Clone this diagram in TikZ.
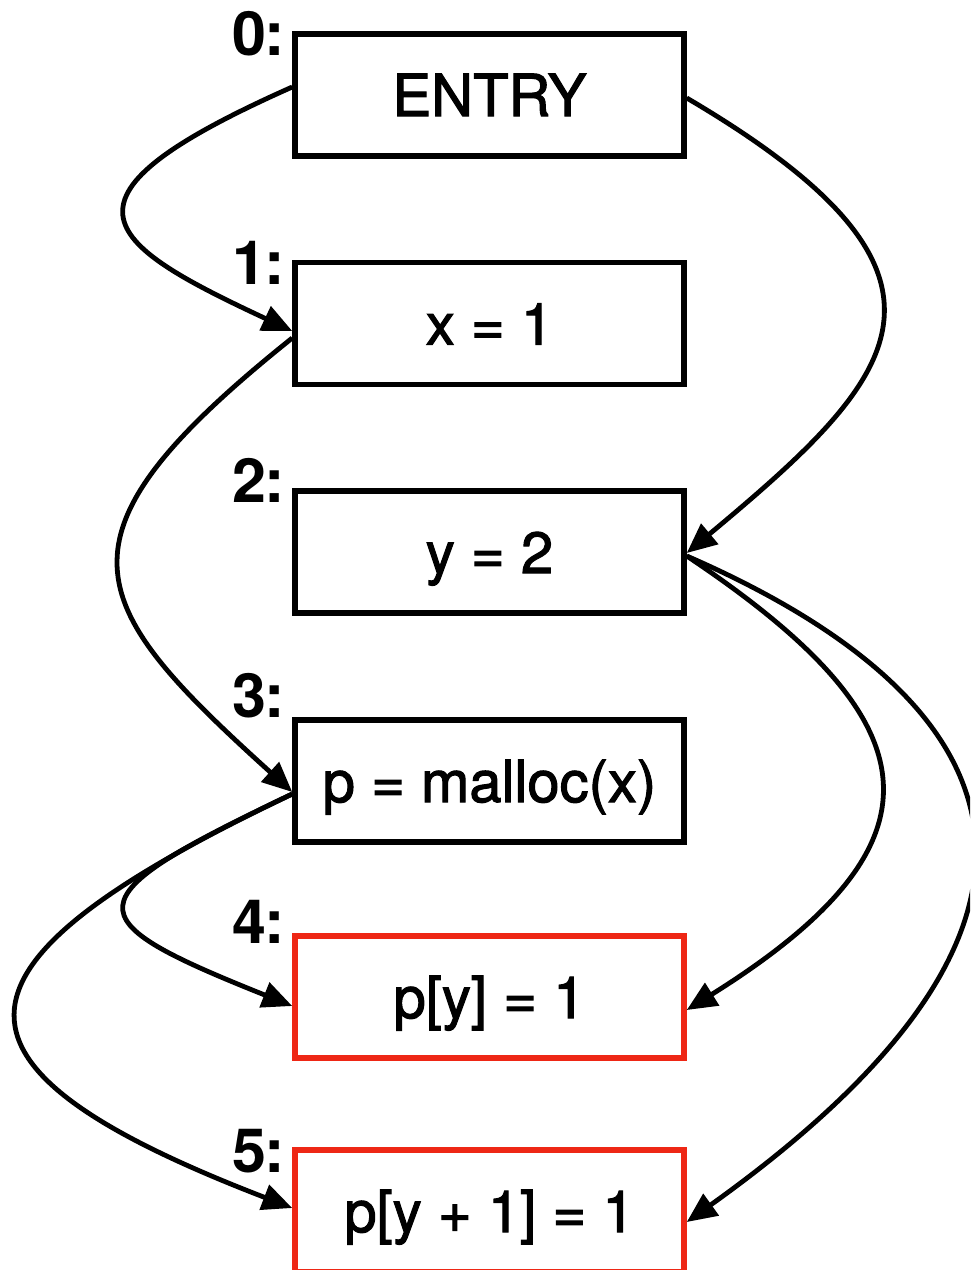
\documentclass[tikz,border=0pt]{standalone}
\usepackage{fontspec}
\setmainfont{TeX Gyre Heros}
\font\boxfnt="[texgyreheros-regular.otf]:embolden=1.8" at 58pt
\usetikzlibrary{arrows.meta}
\definecolor{boxred}{RGB}{238,39,21}
\begin{document}
\begin{tikzpicture}[x=1pt,y=-1pt,
  blk/.style={draw, line width=5.5pt, minimum width=389pt, minimum height=122pt,
    inner sep=0pt, text height=42pt, text depth=0pt,
    font=\boxfnt},
  redblk/.style={blk, draw=boxred},
  lbl/.style={anchor=base east, inner sep=0pt, font=\fontsize{61}{64}\selectfont\bfseries},
  edge/.style={line width=4.8pt, -{Triangle[length=30pt,width=26pt]}}]
\useasboundingbox (0,0) rectangle (970,1270);
\clip (0,0) rectangle (970,1270);
\node[blk] (b0) at (489.5,95) {ENTRY};
\node[blk] (b1) at (489.5,323.5) {x = 1};
\node[blk] (b2) at (489.5,552) {y = 2};
\node[blk] (b3) at (489.5,781) {p = malloc(x)};
\node[redblk] (b4) at (489.5,997) {p[y] = 1};
\node[redblk] (b5) at (489.5,1211) {p[y + 1] = 1};
\node[lbl] (l0) at (285,55) {0\kern-2pt:};
\node[lbl] (l1) at (285,284) {1\kern-2pt:};
\node[lbl] (l2) at (285,502) {2\kern-2pt:};
\node[lbl] (l3) at (285,717) {3\kern-2pt:};
\node[lbl] (l4) at (285,943) {4\kern-2pt:};
\node[lbl] (l5) at (285,1172) {5\kern-2pt:};
\draw[edge] ([yshift=8pt]b0.west) .. controls +(-250,111) and +(-193,-90) .. ([yshift=-7.5pt]b1.west);
\draw[edge] ([yshift=-3pt]b0.east) .. controls +(306,180) and +(211,-176) .. ([yshift=-1pt]b2.east);
\draw[edge] ([yshift=-14.5pt]b1.west) .. controls +(-250,200) and +(-210,-190) .. ([yshift=-11pt]b3.west);
\draw[edge] ([yshift=-4pt]b2.east) .. controls +(243,162) and +(272,-170) .. ([yshift=-13pt]b4.east);
\draw[edge] ([yshift=-4pt]b2.east) .. controls +(301,131) and +(452,-323) .. ([yshift=-11pt]b5.east);
\draw[edge] ([yshift=-13pt]b3.west) .. controls +(-223,106) and +(-220,-88) .. ([yshift=-9pt]b4.west);
\draw[edge] ([yshift=-13pt]b3.west) .. controls +(-355,169) and +(-377,-145) .. ([yshift=3pt]b5.west);
\end{tikzpicture}
\end{document}
